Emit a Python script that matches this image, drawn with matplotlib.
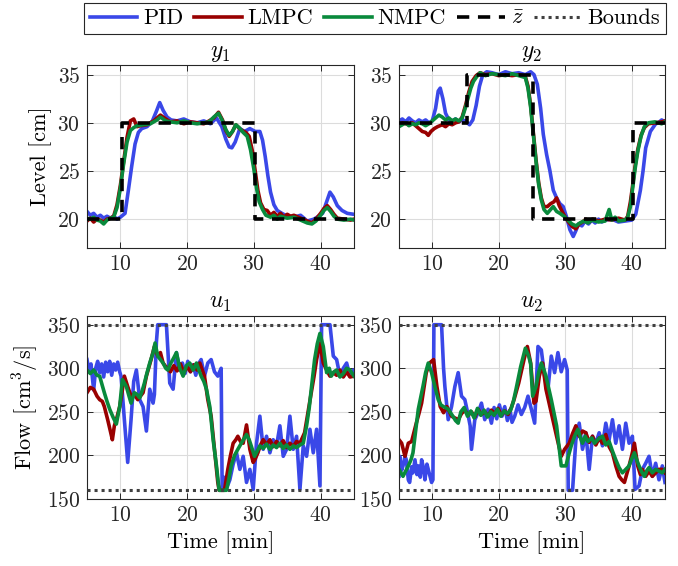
import numpy as np
import matplotlib
matplotlib.use("Agg")
import matplotlib.pyplot as plt

plt.rcParams['font.family'] = ['cmr10', 'DejaVu Serif']
plt.rcParams['mathtext.fontset'] = 'cm'
plt.rcParams['axes.formatter.use_mathtext'] = True

# time axis and limits
t_lim = [5, 45]
x_ticks = [10, 20, 30, 40]
y_ticks = [20, 25, 30, 35]
u_ticks = [150, 200, 250, 300, 350]
u_bounds = [160, 350]

# reference steps (switch time, level)
z1_switch = [5, 10.2, 30.2]
z1_level = [20, 30, 20]
z2_switch = [5, 15.3, 25.2, 40.2]
z2_level = [30, 35, 20, 30]

#y1
y1_pid = [(5,20.8),(5.5,20.4),(6,20.6),(6.5,20.2),(7,20.4),(7.5,20.1),(8,20.3),(8.5,20.1),(9,20.3),(9.5,20.0),(10,20.2),
          (10.7,20.6),(11.2,23.0),(11.7,25.5),(12.2,27.8),(12.7,29.0),(13.2,29.4),(14,29.6),(14.8,30.2),(15.4,31.2),(15.9,32.1),
          (16.4,31.3),(17,30.6),(17.6,30.3),(18.5,30.2),(19.5,30.4),(20.5,30.1),(21.5,30.0),(22.5,30.2),(23.5,29.9),(24.4,30.5),
          (25.2,29.6),(25.8,28.3),(26.3,27.5),(26.7,27.4),(27.2,28.0),(27.9,29.4),(28.6,29.1),(29.4,29.4),(30.2,29.1),(30.9,29.1),
          (31.3,28.2),(31.7,26.5),(32.1,24.5),(32.5,22.8),(33,21.5),(33.5,20.9),(34.2,20.6),(35,20.3),(36,20.2),(37,20.4),
          (38,19.8),(39,20.0),(39.7,20.3),(40.3,20.6),(40.9,21.8),(41.4,22.8),(41.9,22.3),(42.5,21.4),(43.2,20.9),(44,20.6),(45,20.5)]
y1_lmpc = [(5,19.8),(5.5,20.1),(6,19.7),(6.5,20.0),(7,19.9),(7.5,19.7),(8,20.0),(8.5,20.1),(9,20.3),(9.5,21.5),(10,23.5),
           (10.5,26.0),(11,28.5),(11.5,30.2),(12,30.4),(12.5,29.6),(13,29.7),(14,29.8),(15,30.2),(16,30.8),(16.8,30.4),
           (17.5,30.1),(18.5,30.2),(19.5,29.9),(20.5,30.1),(21.5,30.0),(22.5,29.9),(23.3,30.2),(24,30.5),(24.7,31.1),(25.3,30.3),
           (25.8,29.2),(26.3,28.6),(26.8,29.1),(27.3,29.8),(28,29.3),(28.8,29.0),(29.3,28.6),(29.8,27.0),(30.2,25.0),(30.6,23.0),
           (31.0,21.7),(31.5,21.0),(32,20.9),(32.5,20.4),(33,20.7),(33.5,20.3),(34,20.6),(34.5,20.2),(35,20.5),(35.5,20.3),
           (36,20.4),(37,20.1),(38,19.8),(38.7,19.6),(39.3,20.0),(40,20.6),(40.5,21.1),(41,21.4),(41.5,21.0),(42,20.5),
           (42.5,20.1),(43.5,20.0),(44.5,19.9),(45,20.0)]
y1_nmpc = [(5,20.1),(5.5,20.0),(6,20.2),(6.5,19.9),(7,19.8),(7.5,19.5),(8,19.9),(8.5,20.1),(9,20.2),(9.5,21.2),(10,23.2),
           (10.5,25.8),(11,28.0),(11.5,29.2),(12,29.5),(12.5,29.7),(13.5,29.8),(14.5,29.9),(15.5,30.3),(16,30.6),(16.8,30.2),
           (17.5,30.1),(18.5,30.0),(19.5,30.2),(20.5,30.0),(21.5,29.9),(22.5,30.0),(23.3,30.1),(24,30.6),(24.7,31.0),(25.3,30.2),
           (25.8,29.3),(26.3,28.7),(26.8,29.1),(27.3,29.8),(27.8,29.5),(28.4,29.0),(29.0,28.6),(29.5,27.2),(30.0,25.2),(30.4,23.2),
           (30.8,21.8),(31.3,21.0),(31.8,20.4),(32.5,20.2),(33,20.4),(33.5,20.0),(34,20.3),(35,20.1),(36,20.2),(37,19.9),
           (38,19.6),(38.7,19.5),(39.3,19.8),(40,20.4),(40.5,20.9),(41,21.2),(41.5,20.8),(42,20.3),(42.5,20.0),(43.5,19.9),
           (44.5,20.0),(45,19.9)]

#y2
y2_pid = [(5,30.2),(5.5,30.4),(6,30.1),(6.5,30.5),(7,30.2),(7.5,30.0),(8,30.3),(8.5,30.1),(9,30.3),(9.5,30.0),(10,30.2),
          (10.5,31.5),(10.9,33.3),(11.2,33.6),(11.6,32.5),(12,31.0),(12.5,30.3),(13,30.2),(13.5,30.4),(14,30.1),(14.5,30.3),
          (15,30.2),(15.6,29.8),(16.1,30.3),(16.6,31.8),(17.1,33.8),(17.6,35.0),(18.2,35.3),(19,35.2),(20,35.0),(21,35.3),
          (22,35.1),(23,35.2),(24,35.0),(24.8,35.3),(25.3,35.0),(25.8,34.0),(26.3,31.5),(26.7,28.8),(27.2,26.7),(27.7,25.0),
          (28.2,23.0),(28.7,22.2),(29.2,21.6),(29.7,21.3),(30.2,20.2),(30.7,18.9),(31.2,18.2),(31.6,18.8),(32,19.5),(32.5,19.3),
          (33,19.8),(33.5,19.5),(34,19.9),(34.5,19.6),(35,20.0),(35.5,19.7),(36,19.9),(37,20.0),(38,19.7),(39,19.8),(40,19.9),
          (40.6,20.5),(41.3,23.0),(41.7,25.0),(42.1,27.4),(42.8,29.1),(43.6,29.9),(44,30.0),(44.5,30.3),(45,30.1)]
y2_lmpc = [(5,29.8),(5.5,30.0),(6,29.9),(6.5,29.8),(7,30.0),(7.5,29.7),(8,29.4),(8.5,29.1),(9,29.0),(9.4,28.7),(9.8,29.1),
           (10.3,29.4),(10.8,29.6),(11.5,29.8),(12,29.6),(12.5,29.9),(13,29.8),(13.5,30.0),(14,30.1),(14.5,30.6),(15,31.8),
           (15.5,33.2),(16,34.3),(16.6,34.9),(17.2,35.2),(18,35.0),(19,35.1),(20,34.9),(21,35.0),(22,34.9),(23,35.0),(24.0,34.8),
           (24.4,33.8),(24.8,31.8),(25.2,29.0),(25.6,26.2),(26.0,23.8),(26.4,22.2),(26.8,21.3),(27.3,21.3),(27.8,21.6),
           (28.3,21.8),(28.7,22.2),(29.1,21.4),(29.6,20.7),(30.1,20.1),(30.6,19.6),(31.1,19.2),(31.6,19.0),(32.1,19.5),
           (32.6,19.7),(33.1,20.0),(33.6,19.7),(34.1,20.0),(35,19.8),(36,20.0),(37,19.9),(38,20.1),(39,19.9),(39.4,20.3),
           (39.8,21.8),(40.1,23.3),(40.5,25.5),(40.9,27.2),(41.4,28.7),(41.9,29.5),(42.5,29.9),(43.5,30.0),(44.5,30.1),(45,30.2)]
y2_nmpc = [(5,29.6),(5.5,29.8),(6,30.0),(6.5,29.7),(7,29.9),(7.5,29.8),(8,30.0),(8.5,29.9),(9,29.7),(9.5,29.9),(10,30.2),
           (10.5,30.5),(11,30.8),(11.5,30.6),(12,30.3),(12.5,30.5),(13,30.2),(13.5,30.4),(14,30.2),(14.5,30.5),(15,31.6),
           (15.4,32.6),(15.8,33.6),(16.2,34.3),(16.7,34.8),(17.2,35.2),(18,34.9),(19,35.1),(20,35.0),(21,34.9),(22,35.1),
           (23,34.9),(24.0,34.7),(24.4,33.6),(24.8,31.6),(25.2,28.8),(25.6,26.0),(26.0,23.6),(26.4,22.0),(26.8,21.0),(27.3,20.6),
           (27.8,21.0),(28.2,21.3),(28.7,20.8),(29.2,20.6),(29.8,20.3),(30.4,19.9),(31,19.5),(31.6,19.3),(32.2,19.6),(32.8,19.8),
           (33.4,19.6),(34,19.9),(35,19.7),(36,19.8),(36.6,21.0),(37,19.9),(37.5,20.2),(38,19.8),(39,19.9),(39.4,20.2),
           (39.8,21.3),(40.1,23.0),(40.5,25.2),(40.9,27.0),(41.4,28.6),(41.9,29.6),(42.5,30.0),(43.5,30.1),(44.5,29.9),(45,30.1)]

#u1
u1_pid = [(5,310),(5.3,298),(5.6,305),(6.0,275),(6.3,300),(6.6,308),(6.9,295),(7.2,305),(7.5,290),(7.8,307),(8.1,296),
          (8.4,308),(8.7,292),(9.0,305),(9.3,298),(9.6,307),(9.9,296),(10.1,291),(10.6,241),(11.1,192),(11.6,241),(12.0,285),
          (12.4,298),(12.9,264),(13.4,256),(13.9,228),(14.4,276),(14.9,260),(15.1,270),(15.4,330),(15.6,350),(16.2,350),
          (16.9,350),(17.4,283),(17.9,276),(18.4,318),(18.9,298),(19.3,306),(19.7,294),(20.1,308),(20.5,296),(20.9,304),
          (21.3,292),(21.7,305),(22.1,310),(22.6,291),(23.1,306),(23.6,310),(24.1,296),(24.6,291),(25.1,300),(25.25,160),
          (25.5,175),(25.9,162),(26.4,172),(26.9,190),(27.4,203),(27.9,184),(28.4,199),(28.9,169),(29.4,184),(29.9,161),
          (30.4,214),(30.9,245),(31.4,207),(31.9,222),(32.4,203),(32.9,218),(33.4,211),(33.9,234),(34.4,199),(34.9,207),
          (35.4,245),(35.9,207),(36.4,222),(36.9,161),(37.4,211),(37.9,199),(38.4,230),(38.9,203),(39.4,230),(39.9,165),
          (40.15,350),(41.4,350),(41.9,314),(42.4,310),(42.9,291),(43.4,300),(43.9,306),(44.4,291),(44.9,298),(45,296)]
u1_lmpc = [(5,272),(5.5,278),(6.0,276),(6.5,268),(6.9,264),(7.3,262),(7.6,256),(8.1,241),(8.5,228),(8.8,218),(9.1,234),
           (9.5,244),(9.9,256),(10.3,275),(10.6,291),(11.1,279),(11.6,268),(12.1,270),(12.6,264),(13.0,268),(13.4,272),
           (13.9,291),(14.6,310),(15.1,325),(15.6,314),(16.0,318),(16.4,306),(17.0,300),(17.5,296),(18.0,303),(18.5,297),
           (19.0,305),(19.5,295),(20.0,302),(20.5,296),(21.0,304),(21.5,298),(21.9,306),(22.6,291),(23.1,264),(23.6,245),
           (24.1,207),(24.6,169),(24.8,160),(25.6,160),(26.1,184),(26.5,200),(26.9,214),(27.3,218),(27.6,222),(28.0,216),
           (28.4,214),(28.9,235),(29.4,207),(29.9,192),(30.2,196),(30.6,203),(31.0,212),(31.4,218),(31.9,212),(32.4,218),
           (32.9,210),(33.4,216),(33.9,211),(34.4,217),(34.9,209),(35.4,214),(35.9,210),(36.4,216),(36.9,214),(37.6,226),
           (38.1,249),(38.6,272),(39.0,290),(39.4,310),(39.9,329),(40.4,306),(40.9,298),(41.4,291),(41.9,295),(42.4,292),
           (42.9,298),(43.4,290),(43.9,296),(44.4,290),(45,291)]
u1_nmpc = [(5,298),(5.5,294),(6.0,298),(6.5,292),(6.9,291),(7.3,280),(7.6,272),(8.0,262),(8.4,253),(8.9,244),(9.4,236),
           (9.9,256),(10.3,287),(10.9,279),(11.3,268),(11.6,260),(12.1,272),(12.5,270),(12.9,266),(13.3,275),(13.6,283),
           (14.0,295),(14.4,306),(14.9,318),(15.2,329),(15.6,314),(16.0,310),(16.4,306),(16.8,300),(17.1,298),(17.5,305),
           (18.0,312),(18.4,318),(18.9,300),(19.4,291),(19.9,303),(20.4,306),(20.9,298),(21.4,306),(22.1,291),(22.5,285),
           (22.9,276),(23.4,256),(23.9,218),(24.4,188),(24.8,160),(25.9,160),(26.3,175),(26.6,188),(27.1,200),(27.6,207),
           (28.2,215),(28.9,224),(29.3,218),(29.6,211),(30.1,199),(30.5,205),(30.9,211),(31.4,208),(31.9,213),(32.4,207),
           (32.9,212),(33.4,209),(33.9,214),(34.4,208),(34.9,212),(35.4,207),(35.9,211),(36.4,209),(36.9,212),(37.4,214),
           (37.9,234),(38.3,255),(38.6,276),(39.1,310),(39.5,328),(39.9,340),(40.4,325),(40.9,295),(41.3,300),(41.6,291),
           (42.0,296),(42.4,298),(42.9,290),(43.4,294),(43.9,300),(44.4,298),(45,291)]

#u2
u2_pid = [(5,176),(5.1,199),(5.4,183),(5.6,188),(5.9,199),(6.1,195),(6.4,172),(6.6,169),(6.9,187),(7.1,180),(7.4,195),
          (7.7,178),(7.9,188),(8.2,175),(8.4,195),(8.7,185),(8.9,172),(9.2,190),(9.4,184),(9.7,175),(9.9,169),(10.1,172),
          (10.25,350),(11.4,350),(11.7,300),(11.9,279),(12.4,241),(12.9,256),(13.4,279),(13.9,295),(14.4,268),(14.9,264),
          (15.3,250),(15.7,234),(15.9,207),(16.4,241),(16.9,249),(17.4,260),(17.9,241),(18.4,253),(18.9,237),(19.3,255),
          (19.7,242),(20.1,258),(20.5,245),(20.9,256),(21.3,240),(21.7,252),(22.0,238),(22.4,245),(22.9,258),(23.4,247),
          (23.9,255),(24.4,268),(24.9,253),(25.4,237),(25.9,325),(26.4,321),(26.9,291),(27.4,276),(27.9,314),(28.4,295),
          (28.9,318),(29.4,296),(29.9,310),(30.3,298),(30.45,160),(31.1,160),(31.6,218),(32.1,237),(32.6,207),(33.1,226),
          (33.6,184),(34.1,222),(34.6,214),(35.1,226),(35.6,211),(36.1,237),(36.6,218),(37.1,241),(37.6,214),(38.1,234),
          (38.6,207),(39.1,237),(39.6,214),(40.1,222),(40.5,161),(41.1,165),(41.6,184),(42.1,191),(42.6,199),(43.1,176),
          (43.6,191),(44.1,172),(44.6,188),(45,169)]
u2_lmpc = [(5,218),(5.4,214),(5.9,199),(6.4,214),(6.9,216),(7.3,228),(7.6,237),(8.0,248),(8.4,260),(8.8,280),(9.1,295),
           (9.6,306),(10.2,310),(10.7,279),(11.2,256),(11.7,249),(12.2,256),(12.6,250),(12.9,245),(13.4,243),(13.9,241),
           (14.4,248),(14.9,252),(15.4,246),(15.9,250),(16.4,244),(16.9,253),(17.4,247),(17.9,250),(18.4,245),(18.9,252),
           (19.4,248),(19.9,254),(20.4,246),(20.9,251),(21.4,247),(21.9,255),(22.3,264),(23.0,283),(23.8,310),(24.3,325),
           (24.8,306),(25.3,260),(25.6,262),(26.1,291),(26.6,306),(27.1,276),(27.9,249),(28.7,222),(29.4,199),(29.9,207),
           (30.6,214),(31.1,225),(31.6,234),(32.1,222),(32.6,228),(33.1,226),(33.6,215),(34.1,222),(34.6,212),(35.1,220),
           (35.6,214),(36.1,224),(36.6,210),(37.1,203),(37.6,188),(38.1,176),(38.5,172),(38.9,169),(39.3,180),(39.6,188),
           (40.0,200),(40.4,214),(40.9,188),(41.3,178),(41.6,184),(42.1,176),(42.6,182),(43.1,176),(43.6,180),(44.1,184),
           (44.6,184),(45,180)]
u2_nmpc = [(5,184),(5.6,176),(6.0,182),(6.4,188),(6.8,195),(7.1,203),(7.5,228),(7.9,253),(8.3,268),(8.6,279),(9.0,295),
           (9.4,306),(9.9,295),(10.4,279),(10.9,264),(11.3,258),(11.7,256),(12.4,253),(13.1,245),(13.5,240),(13.9,237),
           (14.3,250),(14.8,255),(15.3,245),(15.8,251),(16.3,243),(16.8,254),(17.3,246),(17.8,252),(18.3,244),(18.8,250),
           (19.3,246),(19.8,253),(20.3,245),(20.8,251),(21.3,248),(21.8,252),(22.2,262),(22.6,276),(23.3,302),(24.0,323),
           (24.5,314),(24.8,305),(25.1,268),(25.6,279),(26.0,295),(26.4,306),(26.8,298),(27.1,291),(27.9,264),(28.7,234),
           (29.4,188),(30.1,188),(30.5,200),(30.9,211),(31.4,222),(31.9,230),(32.3,220),(32.6,214),(33.0,222),(33.4,216),
           (34.0,220),(34.4,214),(35.0,219),(35.6,222),(36.1,212),(36.6,216),(37.1,205),(37.6,195),(38.1,186),(38.6,180),
           (39.1,184),(39.6,188),(40.0,196),(40.4,203),(40.8,194),(41.1,188),(41.5,181),(41.9,176),(42.3,183),(42.6,186),
           (43.1,180),(43.6,184),(44.1,182),(44.6,180),(45,184)]

c_pid = '#3a48e8'
c_lmpc = '#990000'
c_nmpc = '#098a3c'
axc = '#262626'
lw = 2.6

fig = plt.figure(figsize=(6.78, 5.66), dpi=100)
pos = [[0.1283, 0.5618, 0.3938, 0.3233], [0.5885, 0.5618, 0.3923, 0.3233],
       [0.1283, 0.1184, 0.3938, 0.3233], [0.5885, 0.1184, 0.3923, 0.3233]]
axs = [fig.add_axes(p) for p in pos]

def plot_series(ax, data, color, label):
    t, v = zip(*data)
    return ax.plot(t, v, color=color, lw=lw, label=label, solid_joinstyle='round')[0]

def plot_ref(ax, sw, lev):
    t = list(sw) + [t_lim[1]]
    v = list(lev) + [lev[-1]]
    return ax.step(t, v, where='post', color='k', lw=2.6, dashes=(3.4, 2.4), label=r'$\bar{z}$', zorder=5)[0]

series = [(y1_pid, y1_lmpc, y1_nmpc), (y2_pid, y2_lmpc, y2_nmpc),
          (u1_pid, u1_lmpc, u1_nmpc), (u2_pid, u2_lmpc, u2_nmpc)]
titles = [r'$y_1$', r'$y_2$', r'$u_1$', r'$u_2$']

handles = []
for i, ax in enumerate(axs):
    p, l, n = series[i]
    h1 = plot_series(ax, p, c_pid, 'PID')
    h2 = plot_series(ax, l, c_lmpc, 'LMPC')
    h3 = plot_series(ax, n, c_nmpc, 'NMPC')
    if i == 0:
        h4 = plot_ref(ax, z1_switch, z1_level)
    elif i == 1:
        h4 = plot_ref(ax, z2_switch, z2_level)
    else:
        for b in u_bounds:
            h5, = ax.plot(t_lim, [b, b], color='#404040', lw=2.2, linestyle=(0, (1, 1.3)), label='Bounds', zorder=5)
    if i == 0:
        handles = [h1, h2, h3, h4]
    ax.set_xlim(t_lim)
    ax.set_xticks(x_ticks)
    if i < 2:
        ax.set_ylim(17, 36)
        ax.set_yticks(y_ticks)
    else:
        ax.set_ylim(150, 360)
        ax.set_yticks(u_ticks)
    ax.set_title(titles[i], fontsize=17, pad=6)
    ax.grid(True, color='#dcdcdc', lw=0.8)
    ax.set_axisbelow(True)
    ax.tick_params(direction='in', top=True, right=True, length=4, width=0.7,
                   labelsize=15.5, colors=axc, pad=5)
    for s in ax.spines.values():
        s.set_color(axc)
        s.set_linewidth(0.8)

axs[0].set_ylabel('Level [cm]', fontsize=16)
axs[2].set_ylabel(r'Flow [cm$^3$/s]', fontsize=16)
axs[2].set_xlabel('Time [min]', fontsize=16)
axs[3].set_xlabel('Time [min]', fontsize=16)

handles.append(h5)
leg = fig.legend(handles=handles, labels=['PID', 'LMPC', 'NMPC', r'$\bar{z}$', 'Bounds'],
                 loc='upper center', bbox_to_anchor=(0.553, 0.998), ncol=5, fontsize=16,
                 frameon=True, fancybox=False, edgecolor='#262626', framealpha=1,
                 handlelength=2.15, handletextpad=0.25, columnspacing=0.5, borderpad=0.25,
                 borderaxespad=0.1)
leg.get_frame().set_linewidth(0.8)

fig.savefig('out.png', dpi=100)
